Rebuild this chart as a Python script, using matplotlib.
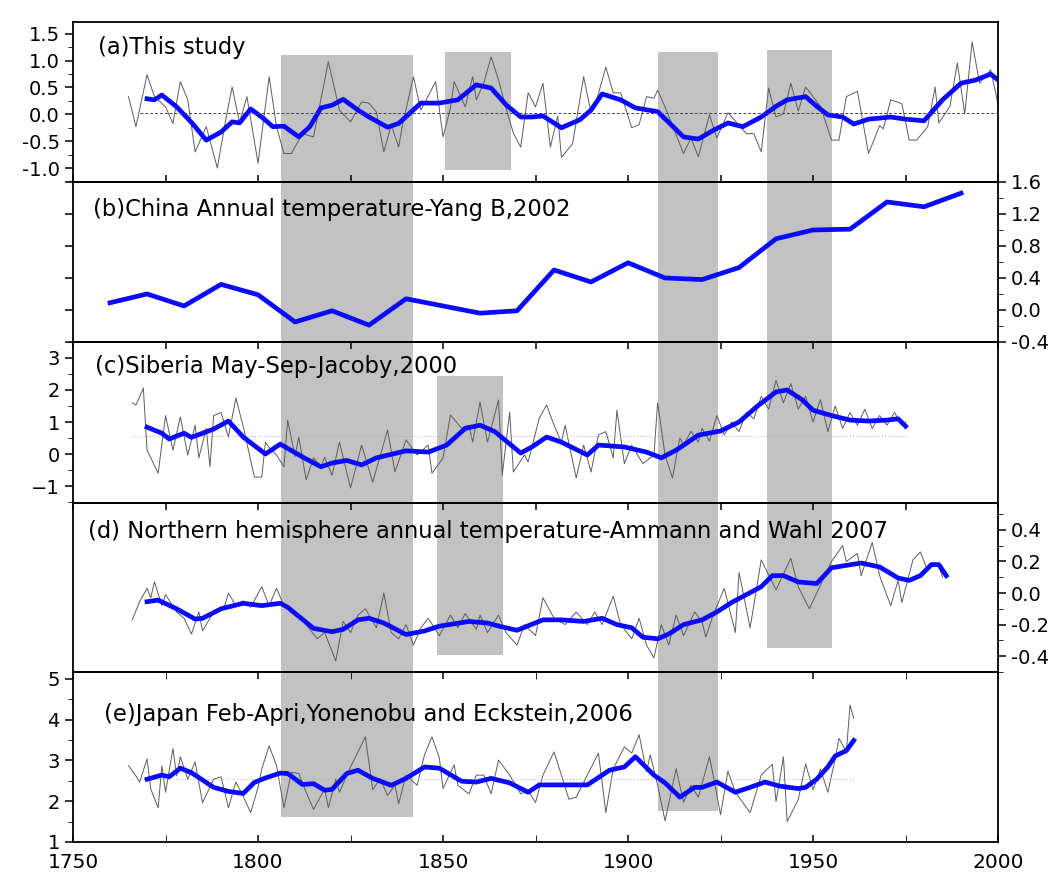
import matplotlib
matplotlib.use('Agg')
import matplotlib.pyplot as plt
from matplotlib.patches import Rectangle
from matplotlib.ticker import MultipleLocator

plt.rcParams['font.family'] = ['DejaVu Sans']

# (a) this study: annual series and smoothed curve
a_thin_years = [1765, 1767, 1770, 1772, 1775, 1777, 1779, 1781, 1783, 1786, 1789, 1791, 1793, 1795, 1797,
                1800, 1803, 1805, 1807, 1809, 1812, 1815, 1819, 1822, 1825, 1828, 1830, 1832, 1834, 1836,
                1838, 1839, 1842, 1844, 1848, 1850, 1852, 1853, 1856, 1858, 1859, 1861, 1863, 1865, 1867,
                1869, 1871, 1873, 1875, 1877, 1879, 1881, 1882, 1885, 1888, 1890, 1891, 1894, 1896, 1898,
                1901, 1903, 1905, 1907, 1908, 1910, 1913, 1915, 1917, 1919, 1922, 1924, 1927, 1932, 1934,
                1936, 1938, 1940, 1942, 1944, 1946, 1948, 1950, 1952, 1955, 1957, 1959, 1962, 1965, 1968,
                1969, 1971, 1974, 1976, 1978, 1981, 1983, 1984, 1987, 1989, 1991, 1993, 1995, 1998, 2000]
a_thin_vals = [0.33, -0.23, 0.74, 0.33, 0.14, -0.17, 0.61, 0.27, -0.70, -0.23, -1.00, -0.20, 0.51, -0.16, 0.33,
               -0.91, 0.70, -0.23, -0.73, -0.73, -0.36, -0.42, 0.98, 0.08, -0.14, 0.23, 0.21, 0.04, -0.70, -0.20,
               -0.61, -0.21, 0.70, 0.08, 0.61, -0.42, 0.12, 0.61, 0.14, 0.70, 0.27, 0.58, 1.07, 0.64, 0.12,
               -0.35, -0.61, 0.40, 0.14, 0.58, -0.61, -0.03, -0.80, -0.55, 0.70, 0.03, 0.14, 0.88, 0.40, 0.40,
               -0.25, -0.19, 0.33, 0.30, 0.45, 0.14, -0.38, -0.73, -0.44, -0.79, -0.01, -0.44, 0.03, -0.36, -0.36,
               -0.70, 0.49, -0.05, 0.01, 0.58, 0.06, 0.51, 0.33, 0.15, -0.48, -0.48, 0.33, 0.43, -0.73, -0.21,
               -0.27, 0.27, 0.20, -0.48, -0.48, -0.23, 0.51, -0.16, 0.15, 0.96, 0.01, 1.35, 0.58, 0.83, 0.19]
a_smooth_years = [1770, 1772, 1774, 1778, 1782, 1786, 1790, 1793, 1795, 1798, 1801, 1804, 1807, 1811, 1814,
                  1817, 1820, 1823, 1827, 1830, 1835, 1838, 1844, 1849, 1854, 1859, 1863, 1867, 1871, 1874,
                  1877, 1882, 1887, 1890, 1893, 1898, 1902, 1908, 1911, 1915, 1919, 1923, 1927, 1931, 1936,
                  1940, 1943, 1948, 1951, 1954, 1958, 1961, 1965, 1971, 1975, 1980, 1985, 1990, 1994, 1998, 2000]
a_smooth_vals = [0.29, 0.27, 0.36, 0.14, -0.15, -0.48, -0.33, -0.14, -0.16, 0.10, -0.05, -0.23, -0.22, -0.42, -0.23,
                 0.12, 0.17, 0.28, 0.08, -0.05, -0.24, -0.17, 0.21, 0.21, 0.27, 0.55, 0.49, 0.18, -0.05, -0.05,
                 -0.03, -0.25, -0.10, 0.08, 0.38, 0.27, 0.12, 0.05, -0.15, -0.42, -0.46, -0.30, -0.16, -0.23, -0.05,
                 0.15, 0.27, 0.33, 0.15, -0.01, -0.05, -0.18, -0.09, -0.05, -0.09, -0.12, 0.27, 0.58, 0.64, 0.75, 0.64]
a_ref_level = 0.03

# (b) China annual temperature, decadal
b_years = [1760, 1770, 1780, 1790, 1800, 1810, 1820, 1830, 1840, 1850, 1860, 1870, 1880, 1890, 1900,
           1910, 1920, 1930, 1940, 1950, 1960, 1970, 1980, 1990]
b_vals = [0.09, 0.20, 0.05, 0.32, 0.19, -0.15, -0.01, -0.19, 0.14, 0.05, -0.04, -0.01, 0.50, 0.35, 0.59,
          0.40, 0.38, 0.53, 0.89, 1.00, 1.01, 1.35, 1.29, 1.46]

# (c) Siberia May-Sep
c_thin_years = [1766, 1767, 1769, 1770, 1773, 1775, 1777, 1779, 1781, 1783, 1784, 1786, 1787, 1788, 1790,
                1792, 1794, 1796, 1799, 1801, 1802, 1803, 1805, 1807, 1808, 1810, 1811, 1813, 1815, 1817,
                1818, 1820, 1822, 1825, 1828, 1831, 1835, 1837, 1840, 1843, 1846, 1847, 1850, 1852, 1855,
                1857, 1858, 1860, 1862, 1865, 1866, 1868, 1869, 1872, 1873, 1876, 1878, 1880, 1882, 1883,
                1886, 1888, 1890, 1892, 1894, 1896, 1897, 1899, 1901, 1904, 1907, 1908, 1910, 1912, 1914,
                1915, 1917, 1919, 1920, 1922, 1924, 1926, 1928, 1930, 1932, 1934, 1936, 1938, 1940, 1942,
                1944, 1946, 1948, 1950, 1952, 1954, 1956, 1958, 1960, 1962, 1964, 1966, 1968, 1970, 1972,
                1974, 1975]
c_thin_vals = [1.60, 1.53, 2.06, 0.12, -0.60, 1.20, 0.12, 1.16, -0.03, 0.90, -0.12, 0.80, -0.40, 1.20, 1.30,
               0.53, 1.75, 0.86, -0.72, -0.72, 0.37, 0.20, -0.03, -0.40, 1.06, -0.08, 0.53, -0.80, -0.12, -0.40,
               -0.10, -0.66, 0.37, -1.06, 0.28, -0.88, 0.75, -0.56, 0.44, -0.03, 0.28, -0.60, -0.12, 1.22, 0.81,
               0.90, 0.37, 1.62, 0.37, 1.69, -0.66, 1.31, -0.56, -0.03, -0.25, 1.12, 1.53, 0.90, 0.37, 0.90,
               -0.75, 0.28, -0.56, 0.60, 0.70, -0.12, 1.37, -0.30, 0.28, -0.30, -0.03, 1.60, -0.03, -0.75, 0.50,
               0.28, 0.71, 0.37, 0.80, 0.40, 1.20, 0.60, 1.00, 0.70, 1.30, 1.10, 1.80, 1.40, 2.30, 1.60,
               2.20, 1.40, 1.80, 1.00, 1.70, 0.70, 1.50, 0.80, 1.30, 0.90, 1.40, 0.80, 1.20, 0.90, 1.30,
               0.90, 1.00]
c_smooth_years = [1770, 1774, 1776, 1780, 1782, 1788, 1792, 1796, 1802, 1806, 1812, 1817, 1820, 1824, 1828,
                  1832, 1840, 1846, 1851, 1856, 1860, 1864, 1871, 1874, 1878, 1882, 1889, 1892, 1899, 1905,
                  1909, 1913, 1919, 1925, 1930, 1935, 1940, 1943, 1947, 1950, 1955, 1960, 1965, 1970, 1973, 1975]
c_smooth_vals = [0.84, 0.65, 0.47, 0.65, 0.52, 0.78, 1.03, 0.53, 0.00, 0.31, -0.09, -0.40, -0.28, -0.20, -0.34,
                 -0.12, 0.10, 0.06, 0.28, 0.80, 0.90, 0.70, 0.03, 0.22, 0.53, 0.37, -0.03, 0.28, 0.22, 0.06,
                 -0.12, 0.12, 0.59, 0.72, 1.00, 1.50, 1.94, 2.00, 1.70, 1.37, 1.20, 1.06, 1.03, 1.06, 1.10, 0.87]
c_ref_level = 0.55

# (d) Northern hemisphere annual temperature
d_thin_years = [1766, 1768, 1770, 1771, 1772, 1774, 1775, 1778, 1780, 1782, 1784, 1785, 1788, 1791, 1792,
                1794, 1796, 1798, 1801, 1803, 1805, 1807, 1810, 1813, 1816, 1818, 1821, 1823, 1825, 1827,
                1829, 1832, 1834, 1836, 1838, 1840, 1842, 1844, 1846, 1849, 1852, 1854, 1856, 1859, 1860,
                1862, 1865, 1867, 1870, 1872, 1875, 1877, 1880, 1883, 1886, 1889, 1891, 1893, 1896, 1898,
                1901, 1903, 1905, 1907, 1909, 1911, 1913, 1915, 1918, 1920, 1921, 1923, 1926, 1929, 1930,
                1933, 1936, 1940, 1944, 1946, 1949, 1953, 1955, 1958, 1959, 1962, 1963, 1966, 1968, 1971,
                1973, 1974, 1977, 1979, 1981, 1982, 1984, 1985]
d_thin_vals = [-0.17, -0.055, 0.03, -0.03, 0.07, -0.08, -0.01, -0.12, -0.16, -0.26, -0.12, -0.24, -0.12, -0.08, 0.00,
               -0.08, -0.05, -0.09, 0.04, -0.08, 0.03, -0.08, -0.12, -0.20, -0.29, -0.25, -0.43, -0.18, -0.25, -0.14,
               -0.10, -0.22, 0.00, -0.25, -0.29, -0.20, -0.33, -0.22, -0.16, -0.27, -0.14, -0.22, -0.13, -0.23, -0.14,
               -0.25, -0.14, -0.25, -0.33, -0.20, -0.27, -0.03, -0.16, -0.20, -0.12, -0.20, -0.12, -0.20, -0.02, -0.20,
               -0.29, -0.16, -0.33, -0.41, -0.20, -0.33, -0.14, -0.27, -0.12, -0.18, -0.28, -0.14, 0.03, -0.25, 0.13,
               -0.22, 0.21, 0.02, 0.22, 0.04, -0.10, 0.10, 0.20, 0.30, 0.20, 0.25, 0.11, 0.32, 0.11, -0.08,
               0.08, -0.06, 0.21, 0.26, 0.14, 0.19, 0.17, 0.10]
d_smooth_years = [1770, 1773, 1778, 1783, 1785, 1790, 1796, 1801, 1806, 1808, 1815, 1820, 1823, 1827, 1830,
                  1834, 1840, 1845, 1849, 1857, 1862, 1866, 1870, 1877, 1882, 1888, 1893, 1897, 1901, 1904,
                  1908, 1911, 1915, 1920, 1924, 1928, 1936, 1939, 1942, 1946, 1951, 1955, 1963, 1968, 1973,
                  1976, 1979, 1982, 1984, 1986]
d_smooth_vals = [-0.055, -0.045, -0.10, -0.165, -0.16, -0.10, -0.065, -0.08, -0.065, -0.09, -0.224, -0.245, -0.23, -0.17, -0.16,
                 -0.19, -0.263, -0.24, -0.21, -0.18, -0.19, -0.215, -0.236, -0.17, -0.17, -0.18, -0.16, -0.20, -0.22, -0.28,
                 -0.29, -0.26, -0.20, -0.17, -0.12, -0.06, 0.04, 0.11, 0.11, 0.07, 0.06, 0.16, 0.19, 0.165, 0.095,
                 0.08, 0.11, 0.18, 0.18, 0.11]

# (e) Japan Feb-Apr
e_thin_years = [1765, 1767, 1768, 1770, 1771, 1773, 1774, 1775, 1777, 1778, 1779, 1781, 1783, 1785, 1788,
                1790, 1792, 1794, 1796, 1798, 1800, 1801, 1803, 1805, 1807, 1809, 1811, 1813, 1815, 1818,
                1819, 1821, 1822, 1825, 1829, 1831, 1833, 1835, 1837, 1838, 1840, 1843, 1845, 1847, 1849,
                1850, 1853, 1854, 1857, 1859, 1861, 1863, 1865, 1868, 1871, 1873, 1875, 1877, 1880, 1882,
                1884, 1886, 1889, 1892, 1894, 1896, 1899, 1901, 1903, 1905, 1906, 1908, 1910, 1913, 1915,
                1917, 1919, 1922, 1923, 1925, 1927, 1929, 1933, 1936, 1939, 1940, 1942, 1943, 1946, 1948,
                1950, 1952, 1954, 1956, 1957, 1959, 1960, 1961]
e_thin_vals = [2.87, 2.62, 2.47, 3.04, 2.30, 1.84, 2.87, 2.22, 3.29, 2.62, 3.09, 2.54, 2.96, 1.96, 2.54,
               2.60, 1.84, 2.47, 2.12, 1.72, 2.34, 2.79, 3.36, 2.87, 1.84, 2.71, 2.68, 2.22, 1.80, 2.30,
               1.84, 2.54, 2.22, 2.84, 3.58, 2.28, 2.56, 2.14, 2.39, 1.94, 2.64, 2.39, 3.14, 3.58, 3.06,
               2.31, 2.89, 2.39, 2.18, 2.64, 2.64, 2.18, 3.01, 2.64, 2.18, 2.26, 1.97, 2.64, 3.21, 2.64,
               2.05, 2.10, 2.64, 3.18, 1.72, 2.80, 3.33, 3.18, 3.63, 2.72, 3.14, 2.39, 1.52, 2.80, 1.97,
               2.39, 2.10, 3.09, 2.64, 1.67, 2.74, 2.22, 1.72, 2.64, 2.91, 1.99, 3.09, 1.50, 2.04, 2.91,
               2.28, 2.79, 2.22, 3.04, 3.54, 3.21, 4.36, 4.03]
e_smooth_years = [1770, 1774, 1776, 1779, 1782, 1788, 1792, 1796, 1799, 1802, 1806, 1808, 1812, 1815, 1818,
                  1820, 1824, 1827, 1831, 1836, 1840, 1845, 1849, 1855, 1859, 1863, 1868, 1873, 1876, 1882,
                  1889, 1895, 1899, 1902, 1907, 1910, 1914, 1918, 1920, 1924, 1929, 1933, 1937, 1941, 1946,
                  1948, 1951, 1954, 1956, 1959, 1961]
e_smooth_vals = [2.54, 2.64, 2.60, 2.81, 2.70, 2.34, 2.24, 2.19, 2.46, 2.57, 2.69, 2.68, 2.41, 2.43, 2.27,
                 2.29, 2.68, 2.76, 2.56, 2.39, 2.56, 2.84, 2.81, 2.49, 2.47, 2.56, 2.45, 2.22, 2.40, 2.40,
                 2.40, 2.76, 2.84, 3.09, 2.64, 2.45, 2.10, 2.34, 2.34, 2.47, 2.22, 2.34, 2.47, 2.37, 2.31,
                 2.34, 2.54, 2.84, 3.11, 3.24, 3.49]
e_ref_level = 2.55

# shaded periods: start, end, (panel, value) of top edge, (panel, value) of bottom edge
shade_start = [1806.2, 1850.5, 1848.4, 1908.1, 1937.6]
shade_end = [1841.9, 1868.4, 1866.2, 1924.3, 1955.1]
shade_top = [(0, 1.11), (0, 1.16), (2, 2.44), (0, 1.16), (0, 1.20)]
shade_bottom = [(4, 1.62), (0, -1.04), (3, -0.39), (4, 1.75), (3, -0.35)]

titles = ['(a)This study',
          '(b)China Annual temperature-Yang B,2002',
          '(c)Siberia May-Sep-Jacoby,2000',
          '(d) Northern hemisphere annual temperature-Ammann and Wahl 2007',
          '(e)Japan Feb-Apri,Yonenobu and Eckstein,2006']

blue = '#0a0aff'
grey = '#5c5c5c'

fig = plt.figure(figsize=(10.54, 8.8), dpi=100)
left, width = 0.0693, 0.8776
rows = [(0.7932, 0.1818), (0.6114, 0.1818), (0.4284, 0.1830), (0.2364, 0.1920), (0.0432, 0.1932)]
axes = [fig.add_axes([left, b, width, h]) for b, h in rows]

for ax in axes:
    ax.set_facecolor('none')
    ax.set_xlim(1750, 2000)
    for s in ax.spines.values():
        s.set_linewidth(1.3)
    ax.tick_params(axis='both', labelsize=14, width=1.1)
    ax.xaxis.set_major_locator(MultipleLocator(25))
    ax.tick_params(axis='x', direction='in', length=5, top=False, bottom=False,
                   labelbottom=False)

# (a)
ax = axes[0]
ax.plot(a_thin_years, a_thin_vals, color=grey, lw=0.7)
ax.plot(a_smooth_years, a_smooth_vals, color=blue, lw=3.4)
ax.plot([1768, 2000], [a_ref_level, a_ref_level], color='#444444', lw=0.7, ls=(0, (3, 2)))
ax.set_ylim(-1.26, 1.72)
ax.yaxis.set_major_locator(MultipleLocator(0.5))
ax.yaxis.set_minor_locator(MultipleLocator(0.25))
ax.yaxis.set_major_formatter(lambda v, p: '%.1f' % v)
ax.tick_params(axis='x', bottom=True)
ax.tick_params(axis='y', which='major', direction='out', length=6)
ax.tick_params(axis='y', which='minor', direction='out', length=3.5)

# (b)
ax = axes[1]
ax.plot(b_years, b_vals, color=blue, lw=3.4)
ax.set_ylim(-0.4, 1.6)
ax.yaxis.set_major_locator(MultipleLocator(0.4))
ax.yaxis.set_minor_locator(MultipleLocator(0.2))
ax.yaxis.set_major_formatter(lambda v, p: '%.1f' % v)
ax.tick_params(axis='y', which='major', direction='out', length=6, left=True, right=True,
               labelleft=False, labelright=True)
ax.tick_params(axis='y', which='minor', direction='out', length=3.5, left=False, right=True)

# (c)
ax = axes[2]
ax.plot(c_thin_years, c_thin_vals, color=grey, lw=0.7)
ax.plot([1766, 1975], [c_ref_level, c_ref_level], color='#b0b0b0', lw=0.7, ls=(0, (1, 2)))
ax.plot(c_smooth_years, c_smooth_vals, color=blue, lw=3.4)
ax.set_ylim(-1.53, 3.5)
ax.yaxis.set_major_locator(MultipleLocator(1))
ax.yaxis.set_minor_locator(MultipleLocator(0.5))
ax.tick_params(axis='x', top=True)
ax.tick_params(axis='y', which='major', direction='out', length=6)
ax.tick_params(axis='y', which='minor', direction='out', length=3.5)

# (d)
ax = axes[3]
ax.plot(d_thin_years, d_thin_vals, color=grey, lw=0.7)
ax.plot(d_smooth_years, d_smooth_vals, color=blue, lw=3.4)
ax.set_ylim(-0.50, 0.57)
ax.yaxis.set_major_locator(MultipleLocator(0.2))
ax.yaxis.set_minor_locator(MultipleLocator(0.1))
ax.yaxis.set_major_formatter(lambda v, p: '%.1f' % (0 if abs(v) < 1e-9 else v))
ax.tick_params(axis='x', top=True)
ax.tick_params(axis='y', which='major', direction='out', length=6, left=False, right=True,
               labelleft=False, labelright=True)
ax.tick_params(axis='y', which='minor', direction='out', length=3.5, left=False, right=True)

# (e)
ax = axes[4]
ax.plot(e_thin_years, e_thin_vals, color=grey, lw=0.7)
ax.plot([1766, 1961], [e_ref_level, e_ref_level], color='#b0b0b0', lw=0.7, ls=(0, (1, 2)))
ax.plot(e_smooth_years, e_smooth_vals, color=blue, lw=3.4)
ax.set_ylim(1, 5.17)
ax.yaxis.set_major_locator(MultipleLocator(1))
ax.yaxis.set_minor_locator(MultipleLocator(0.5))
ax.xaxis.set_major_locator(MultipleLocator(50))
ax.xaxis.set_minor_locator(MultipleLocator(25))
ax.tick_params(axis='x', which='both', direction='in', length=5, top=True, bottom=True,
               labelbottom=True, labelsize=14.5, pad=8)
ax.tick_params(axis='y', which='major', direction='out', length=6)
ax.tick_params(axis='y', which='minor', direction='out', length=3.5)

# panel titles
title_pos = [(0.027, 0.84), (0.022, 0.83), (0.024, 0.845), (0.016, 0.834), (0.033, 0.75)]
for ax, t, (tx, ty) in zip(axes, titles, title_pos):
    ax.text(tx, ty, t, transform=ax.transAxes, fontsize=16.3, va='center', ha='left')

# grey shaded periods spanning several panels, drawn behind the axes
to_fig = fig.transFigure.inverted()
for x0, x1, (pt, yt), (pb, yb) in zip(shade_start, shade_end, shade_top, shade_bottom):
    fx0, fy1 = to_fig.transform(axes[pt].transData.transform((x0, yt)))
    fx1, fy0 = to_fig.transform(axes[pb].transData.transform((x1, yb)))
    fig.patches.append(Rectangle((fx0, fy0), fx1 - fx0, fy1 - fy0, transform=fig.transFigure,
                                 facecolor='#c2c2c2', edgecolor='none', zorder=-1))

fig.savefig('out.png', dpi=100)
